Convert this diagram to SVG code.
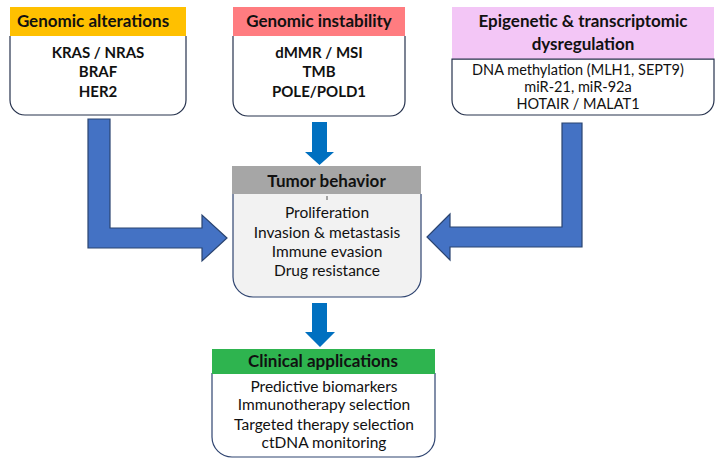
<svg xmlns="http://www.w3.org/2000/svg" width="720" height="465" viewBox="0 0 720 465">
<style>
.hdr{font-family:Lato,"Liberation Sans",sans-serif;font-weight:bold;font-size:17px;fill:#111;text-anchor:middle}
.bb{font-family:Lato,"Liberation Sans",sans-serif;font-weight:bold;font-size:15px;fill:#111;text-anchor:middle}
.tx{font-family:Lato,"Liberation Sans",sans-serif;font-size:15.5px;fill:#111;text-anchor:middle}
.tx2{font-family:Lato,"Liberation Sans",sans-serif;font-size:14.5px;fill:#111;text-anchor:middle}
.edge{fill:#fff;stroke:#26324d;stroke-width:1.2}
.big{fill:#4472C4;stroke:#2A4470;stroke-width:1.2}
.small{fill:#0070C0}
</style>
<rect width="720" height="465" fill="#fff"/>
<g id="connectors">
<polygon class="big" points="88,119 110,119 110,228 202,228 202,215 227,238 202,261 202,248 88,248"/>
<polygon class="big" points="562,123 582,123 582,247 450,247 450,260 427,237 450,214 450,227 562,227"/>
<polygon class="small" points="312,122 327,122 327,152 334,152 319.5,165 305,152 312,152"/>
<polygon class="small" points="312,303 327,303 327,332 335,332 320,347 305,332 312,332"/>
</g>
<g id="genomic-alterations">
<path class="edge" d="M10,36 V100 A15,15 0 0 0 25,115 H171 A15,15 0 0 0 186,100 V36"/>
<rect x="10" y="7" width="176" height="29" fill="#FFC000"/>
<text class="hdr" x="93" y="27">Genomic alterations</text>
<text class="bb" x="98" y="58">KRAS / NRAS</text>
<text class="bb" x="98" y="77">BRAF</text>
<text class="bb" x="98" y="97">HER2</text>
</g>
<g id="genomic-instability">
<path class="edge" d="M233,36 V101 A15,15 0 0 0 248,116 H390 A15,15 0 0 0 405,101 V36"/>
<rect x="233" y="7" width="172" height="29" fill="#FF7C80"/>
<text class="hdr" x="319" y="27">Genomic instability</text>
<text class="bb" x="319" y="58">dMMR / MSI</text>
<text class="bb" x="319" y="77">TMB</text>
<text class="bb" x="319" y="97">POLE/POLD1</text>
</g>
<g id="epigenetic">
<path class="edge" d="M452,59 V100 A15,15 0 0 0 467,115 H699 A15,15 0 0 0 714,100 V59 Z"/>
<rect x="452" y="7" width="262" height="52" fill="#F3C6F6"/>
<line x1="452" y1="59" x2="714" y2="59" stroke="#26324d" stroke-width="1"/>
<text class="hdr" x="583" y="27">Epigenetic &amp; transcriptomic</text>
<text class="hdr" x="583" y="50">dysregulation</text>
<text class="tx2" x="578" y="75">DNA methylation (MLH1, SEPT9)</text>
<text class="tx2" x="578" y="92">miR-21, miR-92a</text>
<text class="tx2" x="578" y="109">HOTAIR / MALAT1</text>
</g>
<g id="tumor-behavior">
<path class="edge" style="fill:#F2F2F2;stroke:#2F4470" d="M233,194 V277 A20,20 0 0 0 253,297 H401 A20,20 0 0 0 421,277 V194"/>
<rect x="232" y="166" width="189" height="28" fill="#A6A6A6"/>
<text class="hdr" x="326.5" y="187">Tumor behavior</text>
<line x1="327" y1="196" x2="327" y2="200" stroke="#555" stroke-width="1"/>
<text class="tx" x="327" y="218">Proliferation</text>
<text class="tx" x="327" y="238">Invasion &amp; metastasis</text>
<text class="tx" x="327" y="257">Immune evasion</text>
<text class="tx" x="327" y="276">Drug resistance</text>
</g>
<g id="clinical-applications">
<path class="edge" style="stroke:#2F4470" d="M212,373 V437 A20,20 0 0 0 232,457 H415 A20,20 0 0 0 435,437 V373"/>
<rect x="212" y="349" width="223" height="25" fill="#2EB44F"/>
<text class="hdr" x="323" y="367">Clinical applications</text>
<text class="tx" x="324" y="392">Predictive biomarkers</text>
<text class="tx" x="324" y="410">Immunotherapy selection</text>
<text class="tx" x="324" y="430">Targeted therapy selection</text>
<text class="tx" x="324" y="448">ctDNA monitoring</text>
</g>
</svg>
